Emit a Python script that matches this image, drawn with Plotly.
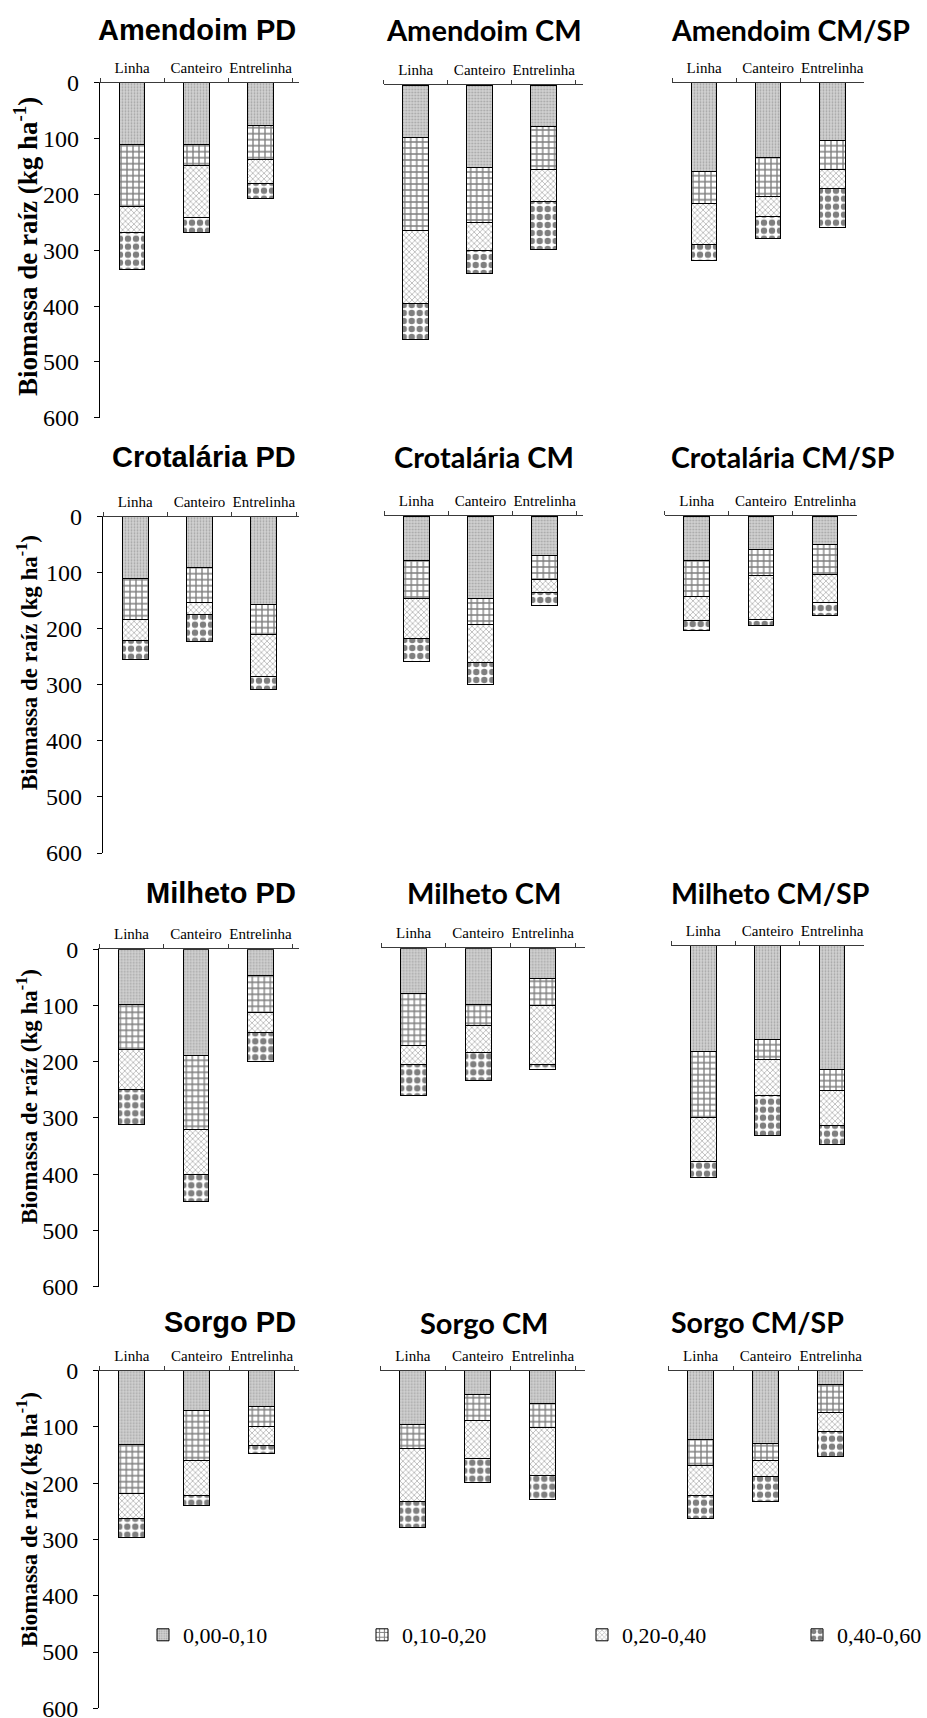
import plotly.graph_objects as go

W, H = 927, 1718

categorias = ["Linha", "Canteiro", "Entrelinha"]
camadas = ["0,00-0,10", "0,10-0,20", "0,20-0,40", "0,40-0,60"]
y_tickvals = [0, 100, 200, 300, 400, 500, 600]

# Root biomass (kg/ha) per depth layer (rows) for Linha, Canteiro, Entrelinha
amendoim_pd = [[110, 110, 76], [111, 39, 62], [48, 92, 42], [65, 27, 27]]
amendoim_cm = [[94, 147, 75], [167, 100, 77], [130, 49, 56], [64, 42, 86]]
amendoim_cmsp = [[159, 134, 104], [57, 69, 52], [73, 36, 34], [30, 40, 70]]
crotalaria_pd = [[110, 90, 156], [74, 63, 55], [36, 22, 74], [34, 47, 24]]
crotalaria_cm = [[80, 148, 71], [67, 45, 42], [72, 68, 24], [40, 39, 22]]
crotalaria_cmsp = [[80, 60, 50], [64, 46, 54], [43, 78, 51], [18, 12, 22]]
milheto_pd = [[98, 188, 46], [80, 133, 66], [71, 80, 36], [63, 47, 52]]
milheto_cm = [[80, 100, 53], [93, 38, 48], [33, 47, 105], [55, 50, 9]]
milheto_cmsp = [[188, 167, 220], [117, 36, 38], [79, 64, 62], [28, 70, 34]]
sorgo_pd = [[131, 70, 63], [88, 90, 36], [43, 61, 34], [34, 19, 15]]
sorgo_cm = [[95, 42, 58], [44, 47, 43], [93, 67, 86], [47, 43, 42]]
sorgo_cmsp = [[122, 129, 25], [47, 30, 49], [52, 29, 34], [41, 45, 45]]

titulos = [
    ["Amendoim PD", "Amendoim CM", "Amendoim CM/SP"],
    ["Crotalária PD", "Crotalária CM", "Crotalária CM/SP"],
    ["Milheto PD", "Milheto CM", "Milheto CM/SP"],
    ["Sorgo PD", "Sorgo CM", "Sorgo CM/SP"],
]
dados = [
    [amendoim_pd, amendoim_cm, amendoim_cmsp],
    [crotalaria_pd, crotalaria_cm, crotalaria_cmsp],
    [milheto_pd, milheto_cm, milheto_cmsp],
    [sorgo_pd, sorgo_cm, sorgo_cmsp],
]
y_title = "Biomassa de raíz (kg ha<sup>-1</sup>)"

# ---- layout geometry (pixels) ----
row_zero = [[82.7, 85, 82.7], [516.7, 516, 516], [949.3, 948.3, 945.7], [1370.7, 1370.7, 1370.7]]
row_scale = [0.5585, 0.5605, 0.5623, 0.5627]
x_bounds = [
    [(100, 292.7, 6), (383.7, 575.7, 7), (672, 864.3, 0)],
    [(103, 296, 3), (384.3, 576.7, 6), (664.7, 857, 0)],
    [(99.3, 292.7, 6), (381.3, 575, 10), (671, 864.3, 0)],
    [(99.3, 294.3, 5), (380.3, 575.3, 10), (668, 863.3, 0)],
]
title_y = [29.5, 456.7, 893, 1322]
ytitle_y = [247, 663, 1097, 1520]
ytitle_x = [26, 27, 27, 27]
ytitle_size = [27, 23, 23, 23]
legend_x = [143, 362, 582, 797]
legend_y = 1635

SERIF = "Liberation Serif"
estilos = [
    dict(color="#c8c8c8", pattern=dict(shape=".", fgcolor="#767676", bgcolor="#d2d2d2", size=3, solidity=0.3)),
    dict(color="white", pattern=dict(shape="+", fgcolor="black", bgcolor="white", size=6, solidity=0.4)),
    dict(color="white", pattern=dict(shape="x", fgcolor="#777777", bgcolor="white", size=4, solidity=0.4)),
    dict(color="white", pattern=dict(shape=".", fgcolor="black", bgcolor="white", size=8, solidity=0.5)),
]
leg_ids = ["legend", "legend2", "legend3", "legend4"]

fig = go.Figure()
annotations = []
k = 0
for r in range(4):
    for c in range(3):
        k += 1
        sfx = "" if k == 1 else str(k)
        x0, x1, ext = x_bounds[r][c]
        catw = (x1 - x0) / 3.0
        py0 = row_zero[r][c]
        py600 = py0 + 600 * row_scale[r]
        for i, nome in enumerate(camadas):
            st = estilos[i]
            fig.add_trace(go.Bar(
                x=categorias, y=dados[r][c][i], name=nome,
                xaxis="x" + sfx, yaxis="y" + sfx,
                marker=dict(color=st["color"], pattern=st["pattern"],
                            line=dict(color="black", width=1)),
                showlegend=(k == 1), legendgroup=nome, legend=leg_ids[i],
                hovertemplate="%{x}: %{y}<extra>" + nome + "</extra>",
            ))
        fig.layout["xaxis" + sfx] = dict(
            domain=[x0 / W, (x1 + ext) / W], anchor="y" + sfx, side="top",
            type="category", categoryorder="array", categoryarray=categorias,
            range=[-0.5, 2.5 + ext / catw], showline=True, linecolor="#3a3a3a", linewidth=1.3,
            ticks="outside", tickson="boundaries", ticklen=4, tickcolor="#3a3a3a",
            tickangle=0,
            tickfont=dict(family=SERIF, size=15, color="black"), ticklabelstandoff=3,
            showgrid=False, zeroline=False, fixedrange=True, automargin=False,
        )
        ydict = dict(
            domain=[1 - py600 / H, 1 - py0 / H], anchor="x" + sfx,
            range=[600, 0], showgrid=False, zeroline=False, fixedrange=True, automargin=False,
        )
        if c == 0:
            ydict.update(showline=True, linecolor="black", linewidth=1.3, ticks="outside",
                         ticklen=5, tickcolor="black", tickvals=y_tickvals,
                         tickfont=dict(family=SERIF, size=24, color="black"),
                         ticklabelstandoff=10, ticklabeloverflow="allow")
        else:
            ydict.update(visible=False)
        fig.layout["yaxis" + sfx] = ydict

        # subplot title
        t = titulos[r][c]
        if c == 0:
            annotations.append(dict(text="<b>" + t + "</b>", x=298 / W, xanchor="right",
                                    y=1 - title_y[r] / H, yanchor="middle",
                                    font=dict(family="Liberation Sans", size=29, color="black")))
        elif c == 1:
            annotations.append(dict(text="<b>" + t + "</b>", x=484 / W, xanchor="center",
                                    y=1 - title_y[r] / H, yanchor="middle",
                                    font=dict(family="Lato", size=29, color="black")))
        else:
            annotations.append(dict(text="<b>" + t + "</b>", x=669 / W, xanchor="left",
                                    y=1 - title_y[r] / H, yanchor="middle",
                                    font=dict(family="Lato", size=28.5, color="black")))
    annotations.append(dict(text="<b>" + y_title + "</b>", textangle=-90,
                            x=ytitle_x[r] / W, xanchor="center", y=1 - ytitle_y[r] / H, yanchor="middle",
                            font=dict(family=SERIF, size=ytitle_size[r], color="black")))

for a in annotations:
    a.update(xref="paper", yref="paper", showarrow=False)

layout_legs = {}
for i, lid in enumerate(leg_ids):
    layout_legs[lid] = dict(orientation="h", x=legend_x[i] / W, xanchor="left",
                            y=1 - legend_y / H, yanchor="middle",
                            font=dict(family=SERIF, size=22, color="black"),
                            itemwidth=30, bgcolor="rgba(0,0,0,0)")

fig.update_layout(
    width=W, height=H, margin=dict(l=0, r=0, t=0, b=0, autoexpand=False),
    paper_bgcolor="white", plot_bgcolor="rgba(0,0,0,0)",
    barmode="stack", bargap=0.6,
    annotations=annotations,
    showlegend=True,
    **layout_legs,
)

fig.write_html("out.html", config={"displayModeBar": False},
               post_script="document.body.style.margin='0';document.body.style.overflow='hidden';")
